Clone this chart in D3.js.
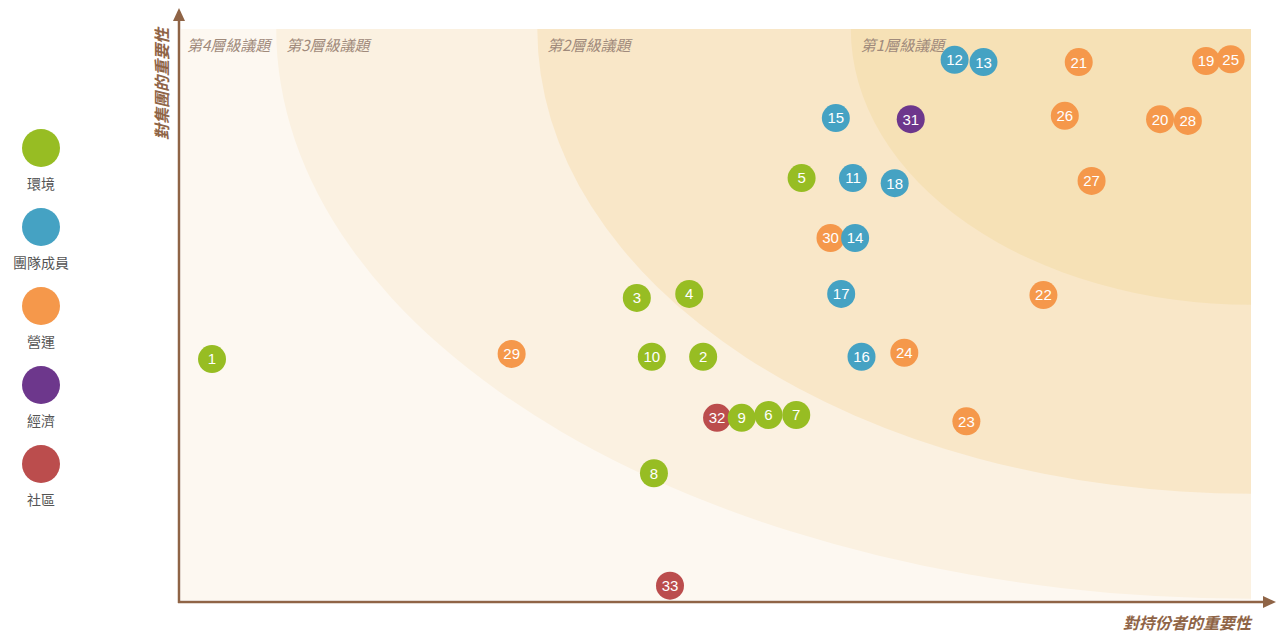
<!DOCTYPE html>
<html>
<head>
<meta charset="utf-8">
<style>
body { margin: 0; background: #fff; width: 1276px; height: 633px; overflow: hidden; }
svg { display: block; }
.dot-label { font-family: "Liberation Sans", Arial, sans-serif; font-size: 15px; fill: #fff; }
.tier-label { font-family: "Noto Sans CJK TC", sans-serif; font-size: 15px; font-style: italic; fill: #a08a7b; }
.legend text { font-family: "Noto Sans CJK TC", sans-serif; font-size: 14px; fill: #555; }
.axis-title { font-family: "Noto Sans CJK TC", sans-serif; font-size: 16px; font-weight: bold; font-style: italic; fill: #8f6446; }
</style>
</head>
<body>
<svg width="1276" height="633"></svg>
<script src="https://d3js.org/d3.v7.min.js"></script>
<script>

// categories + colours
var categories = ["環境", "團隊成員", "營運", "經濟", "社區"];
var catColors = ["#97bd23", "#45a2c3", "#f5984b", "#6d378c", "#bb4d4d"];

// issues: id, category index, importance to stakeholders (x), importance to group (y)
var ids  = [1, 2, 3, 4, 5, 6, 7, 8, 9, 10, 11, 12, 13, 14, 15, 16, 17, 18, 19, 20, 21, 22, 23, 24, 25, 26, 27, 28, 29, 30, 31, 32, 33];
var cats = [0, 0, 0, 0, 0, 0, 0, 0, 0, 0, 1, 1, 1, 1, 1, 1, 1, 1, 2, 2, 2, 2, 2, 2, 2, 2, 2, 2, 2, 2, 3, 4, 4];
var xVals = [0.29, 4.88, 4.26, 4.75, 5.80, 5.49, 5.75, 4.42, 5.24, 4.40, 6.28, 7.23, 7.50, 6.30, 6.12, 6.36, 6.17, 6.67,
             9.58, 9.15, 8.39, 8.06, 7.34, 6.76, 9.81, 8.26, 8.51, 9.41, 3.09, 6.07, 6.82, 5.01, 4.57];
var yVals = [4.22, 4.26, 5.29, 5.36, 7.39, 3.24, 3.24, 2.22, 3.19, 4.26, 7.39, 9.46, 9.42, 6.34, 8.44, 4.26, 5.36, 7.30,
             9.44, 8.42, 9.42, 5.34, 3.13, 4.33, 9.47, 8.48, 7.34, 8.39, 4.31, 6.34, 8.42, 3.19, 0.25];

// tier zones: quarter ellipses from the top-right corner (radii in data units)
var tierNames = ["第4層級議題", "第3層級議題", "第2層級議題", "第1層級議題"];
var tierRx = [null, 9.11, 6.67, 3.74];
var tierRy = [null, 9.98, 8.14, 4.83];
var tierColors = ["#fdf8f1", "#fbf1e1", "#f9e7c8", "#f6e1b6"];

var svg = d3.select("svg"),
    margin = {top: 29, right: 25, bottom: 33, left: 181},
    width = +svg.attr("width") - margin.left - margin.right,
    height = +svg.attr("height") - margin.top - margin.bottom;

var x = d3.scaleLinear().domain([0, 10]).range([0, width]),
    y = d3.scaleLinear().domain([0, 10]).range([height, 0]);

var g = svg.append("g")
    .attr("transform", "translate(" + margin.left + "," + margin.top + ")");

svg.append("defs").append("clipPath").attr("id", "clip")
  .append("rect").attr("width", width).attr("height", height);

var zones = g.append("g").attr("clip-path", "url(#clip)");

zones.append("rect")
    .attr("width", width).attr("height", height)
    .attr("fill", tierColors[0]);

for (var t = 1; t < tierNames.length; t++) {
  zones.append("ellipse")
      .attr("cx", x(10)).attr("cy", y(10))
      .attr("rx", x(tierRx[t]) - x(0))
      .attr("ry", y(10 - tierRy[t]) - y(10))
      .attr("fill", tierColors[t]);
}

// tier labels
tierNames.forEach(function(name, i) {
  var lx = i === 0 ? 6 : x(10 - tierRx[i]) + 10;
  g.append("text")
      .attr("class", "tier-label")
      .attr("x", lx)
      .attr("y", 22)
      .text(name);
});

// axes with arrows
var axisColor = "#8f6446";
svg.append("line")
    .attr("x1", margin.left - 2).attr("y1", margin.top + height + 3)
    .attr("x2", margin.left - 2).attr("y2", 18)
    .attr("stroke", axisColor).attr("stroke-width", 2.5);
svg.append("path")
    .attr("d", "M" + (margin.left - 8) + ",21L" + (margin.left - 2) + ",8L" + (margin.left + 4) + ",21Z")
    .attr("fill", axisColor);

svg.append("line")
    .attr("x1", margin.left - 3).attr("y1", margin.top + height + 2)
    .attr("x2", 1266).attr("y2", margin.top + height + 2)
    .attr("stroke", axisColor).attr("stroke-width", 2.5);
svg.append("path")
    .attr("d", "M1263," + (margin.top + height - 4) + "L1276," + (margin.top + height + 2) + "L1263," + (margin.top + height + 8) + "Z")
    .attr("fill", axisColor);

svg.append("text")
    .attr("class", "axis-title")
    .attr("text-anchor", "end")
    .attr("transform", "translate(168,28) rotate(-90)")
    .text("對集團的重要性");

svg.append("text")
    .attr("class", "axis-title")
    .attr("text-anchor", "end")
    .attr("x", margin.left + width)
    .attr("y", 629)
    .text("對持份者的重要性");

// points, drawn left to right so right ones overlap
var points = ids.map(function(id, i) {
  return {id: id, cat: cats[i], x: xVals[i], y: yVals[i]};
}).sort(function(a, b) { return a.x - b.x; });

var dot = g.selectAll(".dot")
    .data(points)
  .enter().append("g")
    .attr("class", "dot")
    .attr("transform", function(d) { return "translate(" + x(d.x) + "," + y(d.y) + ")"; });

dot.append("circle")
    .attr("r", 14)
    .attr("fill", function(d) { return catColors[d.cat]; });

dot.append("text")
    .attr("class", "dot-label")
    .attr("text-anchor", "middle")
    .attr("dy", "0.36em")
    .text(function(d) { return d.id; });

// legend
var legend = svg.append("g").attr("class", "legend")
  .selectAll("g")
    .data(categories)
  .enter().append("g")
    .attr("transform", function(d, i) { return "translate(41," + (148 + i * 79) + ")"; });

legend.append("circle")
    .attr("r", 19)
    .attr("fill", function(d, i) { return catColors[i]; });

legend.append("text")
    .attr("text-anchor", "middle")
    .attr("y", 41)
    .text(function(d) { return d; });

</script>
</body>
</html>
